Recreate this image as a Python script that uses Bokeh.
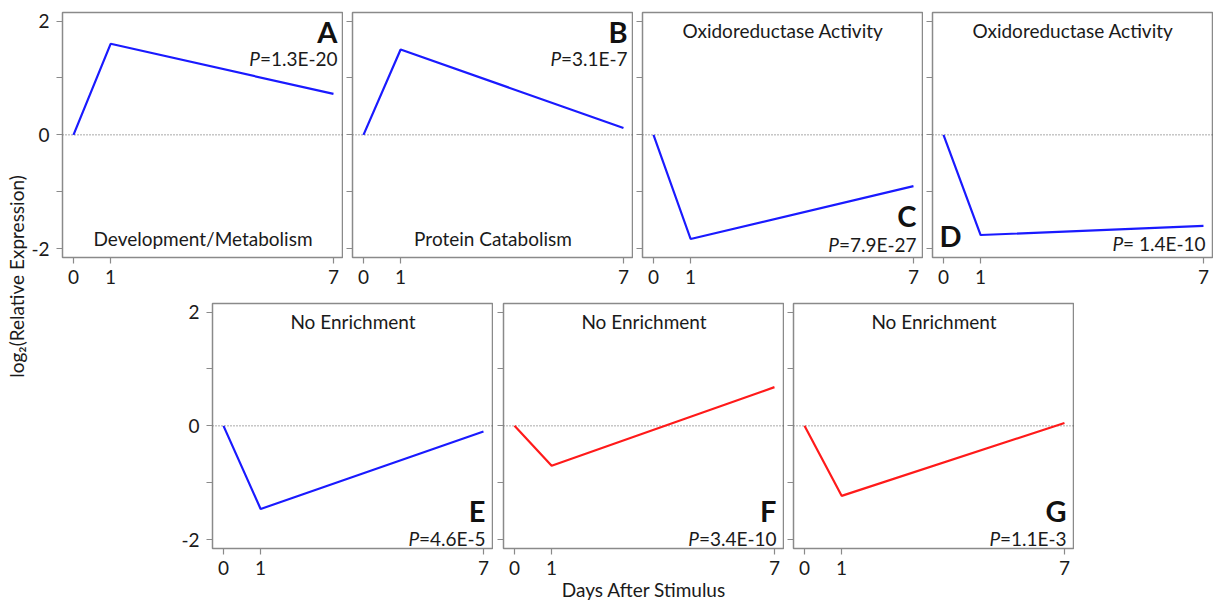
import math
from bokeh.plotting import figure
from bokeh.layouts import row, column
from bokeh.models import Range1d, FixedTicker, Spacer
from bokeh.core.properties import value
from bokeh.embed import file_html
from bokeh.resources import INLINE

# ---------------- data ----------------
days = [0, 1, 7]
x_tick_labels = ["0", "1", "7"]
y_ticks = [-2, -1, 0, 1, 2]
y_tick_labels = ["-2", "", "0", "", "2"]

vals_A = [0, 1.60, 0.72]
vals_B = [0, 1.50, 0.12]
vals_C = [0, -1.83, -0.90]
vals_D = [0, -1.76, -1.60]
vals_E = [0, -1.46, -0.10]
vals_F = [0, -0.70, 0.68]
vals_G = [0, -1.23, 0.05]

letters = ["A", "B", "C", "D", "E", "F", "G"]
subtitles = ["Development/Metabolism", "Protein Catabolism",
             "Oxidoreductase Activity", "Oxidoreductase Activity",
             "No Enrichment", "No Enrichment", "No Enrichment"]
pvalues = ["=1.3E-20", "=3.1E-7", "=7.9E-27", "= 1.4E-10",
           "=4.6E-5", "=3.4E-10", "=1.1E-3"]
colors = ["#1a1aff", "#1a1aff", "#1a1aff", "#1a1aff",
          "#1a1aff", "#ff1a1a", "#ff1a1a"]

FONT = "Lato"
TXT = "#1a1a1a"
GRAY = "#8a8a8a"
FS = 19      # px, ordinary text
LFS = 29     # px, panel letters

# approximate advance widths (em) for placing the italic P before the value
_W = {"0": .58, "1": .58, "2": .58, "3": .58, "4": .58, "5": .58, "6": .58,
      "7": .58, "8": .58, "9": .58, ".": .24, "=": .58, "-": .36, "E": .55, " ": .25}


def text_width(s, size):
    return sum(_W.get(c, .55) for c in s) * size


XR = (-0.296, 7.27)
YR = (-2.155, 2.15)
FW, FH = 281, 245


def panel(vals, color, border_left, border_top, border_bottom, ylabels,
          letter, letter_pos, subtitle, sub_pos, pval, pval_pos, xlabel=None):
    p = figure(frame_width=FW, frame_height=FH, output_backend="svg",
               toolbar_location=None, x_range=Range1d(*XR), y_range=Range1d(*YR),
               min_border_left=border_left, min_border_right=0,
               min_border_top=border_top, min_border_bottom=border_bottom,
               background_fill_color="white", border_fill_color="white")
    p.grid.visible = False
    p.outline_line_color = GRAY
    p.outline_line_width = 1.5

    for ax in (p.xaxis[0], p.yaxis[0]):
        ax.axis_line_color = None
        ax.major_tick_line_color = GRAY
        ax.major_tick_line_width = 1.2
        ax.minor_tick_line_color = None
        ax.major_tick_in = 0
        ax.major_tick_out = 6
        ax.major_label_text_font = FONT
        ax.major_label_text_font_size = f"{FS}px"
        ax.major_label_text_color = TXT

    p.xaxis.ticker = FixedTicker(ticks=days)
    p.xaxis.major_label_overrides = {d: l for d, l in zip(days, x_tick_labels)}
    p.xaxis.major_label_standoff = 6
    p.yaxis.ticker = FixedTicker(ticks=y_ticks)
    p.yaxis.major_label_standoff = 7
    if ylabels:
        p.yaxis.major_label_overrides = {t: l for t, l in zip(y_ticks, y_tick_labels)}
    else:
        p.yaxis.major_label_overrides = {t: "" for t in y_ticks}
        p.yaxis.major_label_text_font_size = "0px"
        p.yaxis.major_label_standoff = 0

    if xlabel:
        p.xaxis.axis_label = xlabel
        p.xaxis.axis_label_text_font = FONT
        p.xaxis.axis_label_text_font_style = "normal"
        p.xaxis.axis_label_text_font_size = f"{FS}px"
        p.xaxis.axis_label_text_color = TXT
        p.xaxis.axis_label_standoff = 0

    # zero reference line
    p.line(x=[XR[0], XR[1]], y=[0, 0], line_color="#555555", line_width=1,
           line_dash="1 2")
    # the profile
    p.line(x=days, y=vals, line_color=color, line_width=2.2)

    def place(where, dx, dy, fs):
        # dy: distance of the text from the frame edge (px)
        shift = 0.5 * fs
        if where == "tr":
            return XR[1], YR[1], -dx, dy - shift, "right"
        if where == "br":
            return XR[1], YR[0], -dx, -dy - shift, "right"
        if where == "bl":
            return XR[0], YR[0], dx, -dy - shift, "left"
        if where == "tc":
            return (XR[0] + XR[1]) / 2, YR[1], 0, dy - shift, "center"
        if where == "bc":
            return (XR[0] + XR[1]) / 2, YR[0], 0, -dy - shift, "center"

    # big panel letter
    w, dx, dy = letter_pos
    x, y, xo, yo, al = place(w, dx, dy, LFS)
    p.text(x=[x], y=[y], text=[letter], x_offset=xo, y_offset=yo,
           text_align=al, text_baseline="alphabetic",
           text_font=value(FONT), text_font_style="bold",
           text_font_size=f"{LFS}px", text_color="#111111")

    # subtitle
    w, dx, dy = sub_pos
    x, y, xo, yo, al = place(w, dx, dy, FS)
    p.text(x=[x], y=[y], text=[subtitle], x_offset=xo, y_offset=yo,
           text_align=al, text_baseline="alphabetic",
           text_font=value(FONT), text_font_size=f"{FS}px", text_color=TXT)

    # p-value: italic P followed by the value
    w, dx, dy = pval_pos
    x, y, xo, yo, al = place(w, dx, dy, FS)
    p.text(x=[x], y=[y], text=[pval], x_offset=xo, y_offset=yo,
           text_align="right", text_baseline="alphabetic",
           text_font=value(FONT), text_font_size=f"{FS}px", text_color=TXT)
    p.text(x=[x], y=[y], text=["P"], x_offset=xo - text_width(pval, FS) - 0.5,
           y_offset=yo, text_align="right", text_baseline="alphabetic",
           text_font=value(FONT), text_font_style="italic",
           text_font_size=f"{FS}px", text_color=TXT)
    return p


all_vals = [vals_A, vals_B, vals_C, vals_D, vals_E, vals_F, vals_G]

letter_pos = [("tr", 6, 33), ("tr", 6, 33), ("br", 7, 28), ("bl", 7, 8),
              ("br", 8, 24), ("br", 8, 24), ("br", 8, 24)]
sub_pos = [("bc", 0, 10), ("bc", 0, 10), ("tc", 0, 27), ("tc", 0, 27),
           ("tc", 0, 27), ("tc", 0, 27), ("tc", 0, 27)]
pval_pos = [("tr", 6, 55), ("tr", 6, 55), ("br", 7, 4), ("br", 8, 5),
            ("br", 8, 1), ("br", 8, 1), ("br", 8, 1)]

LABW = 28
top_borders_left = [62 - LABW, 9, 9, 9]
bot_borders_left = [62 - LABW, 10, 9]

top_panels = []
for i in range(4):
    top_panels.append(panel(all_vals[i], colors[i], top_borders_left[i], 12, 34,
                            i == 0, letters[i], letter_pos[i], subtitles[i],
                            sub_pos[i], pvalues[i], pval_pos[i]))
bot_panels = []
for j in range(3):
    i = 4 + j
    bot_panels.append(panel(all_vals[i], colors[i], bot_borders_left[j], 12, 53,
                            j == 0, letters[i], letter_pos[i], subtitles[i],
                            sub_pos[i], pvalues[i], pval_pos[i],
                            xlabel="Days After Stimulus" if j == 1 else None))

# y-axis title column
lab = figure(width=LABW, height=601, output_backend="svg", toolbar_location=None,
             x_range=Range1d(0, LABW), y_range=Range1d(0, 601),
             min_border=0, outline_line_color=None)
lab.axis.visible = False
lab.grid.visible = False
lab.text(x=[15.5], y=[601 - 276], text=["log\u2082(Relative Expression)"],
         angle=math.pi / 2, text_align="center", text_baseline="middle",
         text_font=value(FONT), text_font_size=f"{FS}px", text_color=TXT)

top_row = row(*top_panels, spacing=0)
bot_row = row(Spacer(width=150, height=10), *bot_panels, spacing=0)
layout = row(lab, column(top_row, bot_row, spacing=0), spacing=0)

open("out.html", "w").write(file_html(layout, INLINE))
